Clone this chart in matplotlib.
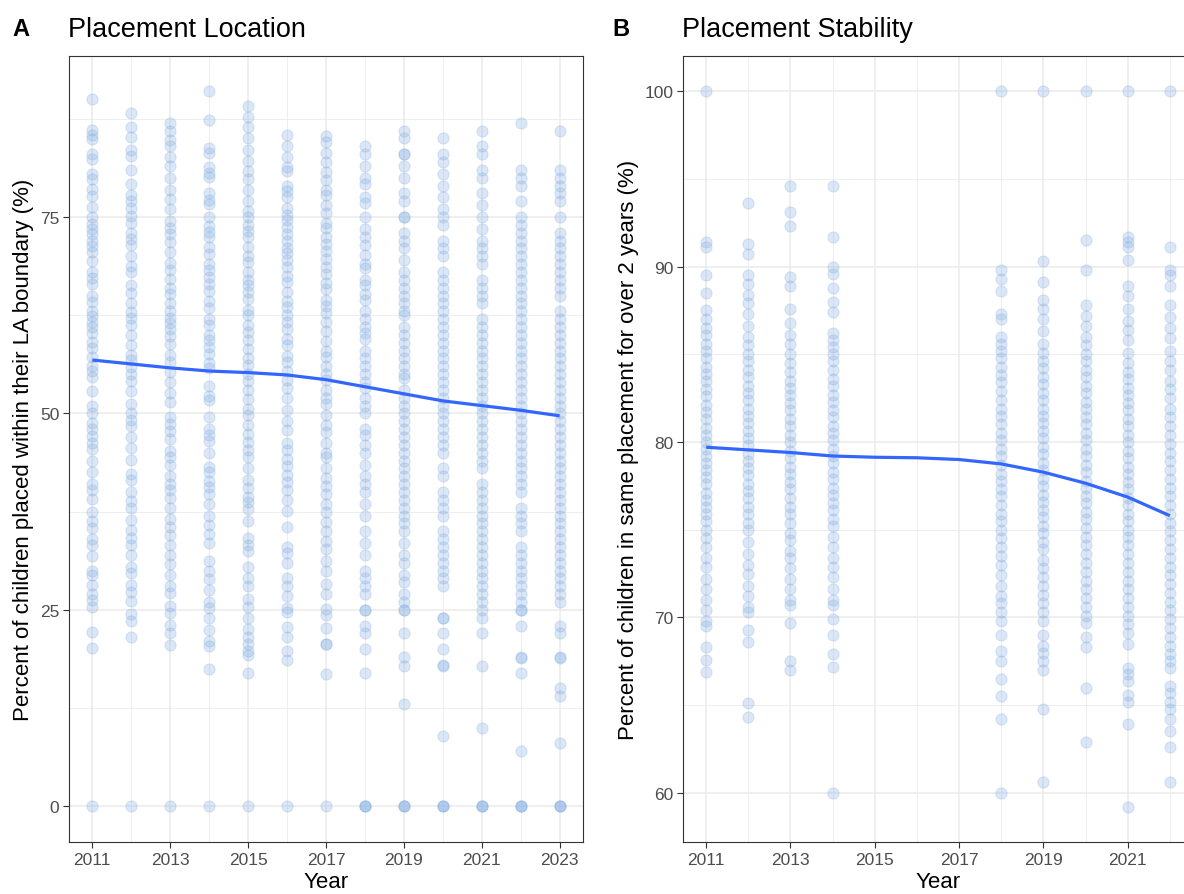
import numpy as np
from matplotlib import pyplot as plt
from matplotlib.ticker import FixedLocator, MultipleLocator

plt.rcParams['font.family'] = ['Liberation Sans', 'DejaVu Sans']

# ---- panel A: placement location, % placed within LA boundary ----
loc_years = [2011, 2012, 2013, 2014, 2015, 2016, 2017, 2018, 2019, 2020, 2021, 2022, 2023]
loc_2011 = [90.0, 86.1, 85.5, 84.9, 83.0, 82.4, 80.5, 79.8, 78.6, 77.7, 76.3, 75.0, 74.1, 73.5, 72.8, 72.0,
            71.3, 70.5, 69.4, 68.0, 67.2, 66.5, 65.0, 64.2, 63.1, 62.4, 61.7, 61.0, 60.2, 59.1, 58.3, 57.2,
            56.0, 55.4, 54.6, 52.8, 51.0, 50.1, 48.8, 48.0, 47.1, 46.3, 45.5, 44.0, 42.5, 41.0, 40.2, 39.1,
            37.5, 36.3, 35.4, 34.0, 33.2, 31.8, 30.0, 29.4, 28.1, 27.0, 26.2, 25.4, 22.2, 20.1, 0]
loc_2012 = [88.3, 86.4, 85.2, 83.5, 82.8, 81.0, 79.2, 77.8, 77.0, 76.2, 75.1, 74.3, 73.0, 72.2, 71.5, 70.0,
            68.8, 68.0, 66.4, 65.3, 64.0, 62.9, 62.1, 61.2, 60.0, 58.7, 57.5, 56.8, 55.9, 55.0, 54.1, 52.9,
            51.2, 50.0, 49.2, 48.4, 47.0, 45.6, 44.1, 42.3, 41.5, 40.0, 38.8, 38.0, 36.5, 35.2, 34.1, 33.3,
            32.0, 30.4, 29.7, 28.1, 27.3, 26.1, 24.5, 23.6, 21.6, 0]
loc_2013 = [87.0, 86.0, 84.8, 84.0, 82.6, 81.5, 80.0, 78.4, 77.3, 76.0, 74.5, 73.6, 72.9, 71.8, 70.6, 69.2,
            68.3, 67.1, 66.0, 65.2, 64.1, 63.0, 62.2, 61.5, 60.7, 59.8, 58.9, 57.5, 56.5, 55.3, 54.0, 52.6,
            51.4, 49.5, 48.6, 47.8, 46.7, 45.2, 44.4, 43.5, 42.1, 41.0, 40.3, 39.2, 38.0, 36.6, 35.5, 34.5,
            33.2, 32.0, 30.8, 29.4, 28.0, 27.2, 25.5, 24.6, 23.1, 22.0, 20.5, 0]
loc_2014 = [91.1, 87.4, 83.8, 83.1, 81.4, 80.6, 80.1, 78.0, 77.2, 76.6, 75.0, 73.9, 73.1, 72.5, 71.2, 70.3,
            69.0, 68.2, 67.4, 66.5, 65.6, 64.3, 63.4, 62.0, 61.2, 60.0, 59.4, 58.5, 57.6, 56.4, 55.8, 53.5,
            52.2, 51.7, 49.5, 48.0, 47.2, 46.5, 45.0, 43.2, 42.6, 41.4, 40.6, 39.8, 38.5, 37.0, 35.8, 34.6,
            33.5, 31.2, 30.0, 28.9, 27.5, 26.0, 25.2, 24.0, 22.4, 21.0, 20.4, 17.5, 0]
loc_2015 = [89.1, 87.7, 86.5, 85.0, 83.5, 82.1, 80.9, 79.8, 78.5, 77.0, 75.8, 75.0, 74.0, 73.2, 72.4, 71.2,
            70.1, 69.3, 68.0, 67.0, 66.3, 65.4, 64.6, 63.2, 62.5, 61.3, 60.4, 59.3, 58.2, 57.0, 56.2, 55.0,
            54.1, 53.0, 51.8, 50.6, 49.8, 48.5, 47.4, 46.4, 45.3, 44.5, 43.1, 41.5, 40.5, 39.4, 38.7, 37.8,
            36.3, 34.1, 33.3, 32.5, 30.5, 29.0, 28.0, 26.4, 25.3, 24.0, 22.5, 21.6, 20.7, 19.8, 19.2, 16.9, 0]
loc_2016 = [85.4, 84.0, 82.6, 81.4, 80.8, 79.0, 78.3, 77.5, 76.1, 75.3, 74.6, 73.7, 72.8, 72.0, 71.1, 70.4,
            69.5, 68.6, 67.5, 66.7, 65.5, 64.3, 63.5, 62.5, 61.6, 60.7, 59.5, 58.7, 57.3, 56.5, 55.4, 54.3,
            53.3, 52.0, 50.5, 49.0, 47.9, 46.3, 45.4, 44.2, 43.3, 42.2, 41.3, 40.2, 39.0, 37.6, 35.5, 33.0,
            32.3, 31.0, 29.1, 28.0, 26.7, 25.2, 24.7, 22.8, 21.6, 19.7, 18.6, 0]
loc_2017 = [85.3, 84.6, 83.2, 82.0, 80.7, 79.7, 78.5, 77.8, 76.5, 75.5, 74.2, 73.6, 72.5, 71.6, 70.7, 69.7,
            68.7, 67.8, 66.6, 65.8, 64.5, 63.7, 62.8, 61.6, 60.5, 59.2, 58.0, 57.2, 56.0, 55.0, 54.2, 53.0,
            52.0, 51.2, 49.8, 48.5, 47.6, 46.2, 45.0, 44.4, 43.0, 41.8, 40.8, 39.7, 38.5, 37.5, 36.2, 35.0,
            33.8, 32.8, 31.2, 30.0, 28.3, 27.0, 25.1, 24.3, 22.7, 20.7, 20.6, 16.8, 0]
loc_2018 = [84.0, 83.0, 81.5, 80.0, 79.2, 77.6, 76.8, 75.0, 73.5, 72.4, 71.5, 70.2, 69.0, 68.5, 67.0, 66.4,
            65.2, 64.4, 63.0, 62.0, 61.0, 60.2, 59.5, 58.0, 57.1, 56.0, 55.0, 54.0, 53.2, 52.0, 51.0, 50.0,
            48.0, 47.3, 46.0, 45.0, 43.5, 42.0, 41.0, 40.0, 38.5, 37.0, 35.0, 33.5, 32.0, 30.0, 29.0, 28.0,
            27.0, 25.0, 25.0, 23.0, 22.0, 20.0, 16.9, 0, 0, 0]
loc_2019 = [86.0, 85.0, 83.0, 83.0, 81.5, 80.0, 78.0, 77.0, 75.0, 75.0, 73.0, 72.0, 71.0, 69.5, 68.0, 67.0,
            66.0, 65.0, 64.0, 63.0, 62.5, 61.0, 60.0, 59.0, 58.0, 57.0, 56.0, 55.0, 54.5, 53.0, 52.0, 51.0,
            50.0, 49.0, 48.0, 47.0, 46.0, 45.0, 44.0, 43.0, 42.0, 41.0, 40.0, 39.0, 38.0, 37.0, 36.0, 35.0,
            33.5, 32.0, 31.0, 29.5, 28.5, 27.0, 26.0, 25.0, 25.0, 22.0, 19.0, 17.9, 13.0, 0, 0, 0]
loc_2020 = [85.0, 83.0, 82.0, 80.5, 79.0, 77.5, 76.0, 75.0, 74.0, 72.0, 71.0, 70.0, 68.0, 67.0, 66.0, 65.0,
            64.0, 63.0, 62.0, 61.0, 60.0, 59.0, 58.0, 57.0, 56.0, 55.0, 54.0, 53.0, 52.0, 51.0, 50.0, 49.0,
            48.0, 47.0, 46.0, 45.0, 43.0, 42.0, 40.0, 39.0, 38.0, 37.0, 35.0, 34.0, 33.0, 32.0, 31.0, 30.0,
            29.0, 28.0, 24.0, 24.0, 22.0, 20.0, 18.0, 17.9, 8.9, 0, 0, 0]
loc_2021 = [86.0, 84.0, 83.0, 81.0, 80.0, 78.0, 76.5, 75.0, 73.5, 72.0, 71.0, 70.0, 69.0, 67.0, 66.0, 65.0,
            64.0, 62.0, 61.0, 60.0, 59.0, 58.0, 57.0, 56.0, 55.0, 54.0, 53.0, 52.0, 51.0, 50.0, 49.0, 48.0,
            47.0, 46.0, 45.0, 44.0, 43.0, 41.0, 40.0, 39.0, 38.0, 37.0, 36.0, 35.0, 34.0, 33.0, 32.0, 31.0,
            30.0, 29.0, 28.0, 27.0, 26.0, 25.0, 24.0, 22.0, 17.9, 9.9, 0, 0, 0]
loc_2022 = [87.0, 81.0, 80.0, 79.0, 77.0, 75.0, 74.0, 73.0, 72.0, 71.0, 70.0, 69.0, 68.0, 67.0, 66.0, 65.0,
            64.0, 63.0, 62.0, 61.0, 60.0, 59.0, 58.0, 57.0, 56.0, 55.0, 54.0, 53.0, 52.0, 51.0, 50.0, 49.0,
            48.0, 47.0, 46.0, 45.0, 44.0, 43.0, 42.0, 41.0, 40.0, 38.0, 37.0, 36.0, 35.0, 33.0, 32.0, 31.0,
            30.0, 29.0, 28.0, 27.0, 26.0, 25.0, 25.0, 23.0, 19.0, 18.9, 16.9, 7.0, 0, 0, 0]
loc_2023 = [86.0, 81.0, 80.0, 79.0, 78.0, 77.0, 75.0, 73.0, 72.0, 71.0, 70.0, 69.0, 68.0, 67.0, 66.0, 65.0,
            63.0, 62.0, 61.0, 60.0, 59.0, 58.0, 57.0, 56.0, 55.0, 54.0, 53.0, 52.0, 51.0, 50.0, 49.0, 48.0,
            47.0, 46.0, 45.0, 44.0, 43.0, 42.0, 41.0, 40.0, 39.0, 38.0, 37.0, 36.0, 35.0, 34.0, 33.0, 32.0,
            31.0, 30.0, 29.0, 28.0, 27.0, 26.0, 23.0, 22.0, 19.0, 18.9, 15.0, 14.0, 8.0, 0, 0, 0]
loc_smooth = [56.8, 56.3, 55.8, 55.4, 55.2, 54.9, 54.3, 53.4, 52.5, 51.6, 51.0, 50.4, 49.7]

# ---- panel B: placement stability, % in same placement > 2 years ----
stab_years = [2011, 2012, 2013, 2014, 2018, 2019, 2020, 2021, 2022]
stab_2011 = [100, 91.4, 91.1, 89.5, 88.5, 87.5, 87.0, 86.5, 86.1, 85.6, 85.2, 84.8, 84.3, 83.9, 83.5, 83.0,
             82.6, 82.1, 81.7, 81.3, 80.8, 80.4, 80.0, 79.6, 79.2, 78.8, 78.4, 78.0, 77.6, 77.1, 76.7, 76.3,
             75.9, 75.5, 75.0, 74.5, 74.0, 73.4, 72.9, 72.2, 71.6, 71.0, 70.4, 69.8, 69.5, 68.3, 67.6, 66.9]
stab_2012 = [93.6, 91.3, 90.7, 89.5, 89.0, 88.4, 87.9, 87.3, 86.6, 86.0, 85.5, 85.0, 84.6, 84.1, 83.7, 83.2,
             82.8, 82.4, 81.9, 81.5, 81.1, 80.6, 80.2, 79.8, 79.3, 78.9, 78.5, 78.1, 77.6, 77.2, 76.8, 76.3,
             75.9, 75.4, 75.0, 74.3, 73.6, 73.0, 72.5, 71.8, 71.2, 70.6, 70.3, 69.3, 68.6, 65.1, 64.3]
stab_2013 = [94.6, 93.1, 92.3, 89.4, 88.9, 87.6, 86.8, 86.1, 85.6, 85.0, 84.5, 84.0, 83.5, 83.1, 82.7, 82.2,
             81.8, 81.3, 80.9, 80.4, 80.0, 79.5, 79.1, 78.6, 78.2, 77.7, 77.3, 76.8, 76.3, 75.9, 75.4, 74.8,
             74.4, 73.8, 73.4, 72.8, 72.2, 71.6, 71.0, 70.7, 69.7, 67.5, 67.0]
stab_2014 = [94.6, 91.7, 90.0, 89.6, 88.8, 88.0, 87.4, 86.2, 85.8, 85.4, 85.0, 84.6, 84.1, 83.6, 83.2, 82.7,
             82.3, 81.8, 81.4, 80.9, 80.5, 80.1, 79.6, 79.2, 78.8, 78.3, 77.9, 77.4, 77.0, 76.5, 76.1, 75.6,
             75.2, 74.6, 74.0, 73.4, 72.9, 72.3, 71.6, 71.0, 70.7, 69.9, 69.0, 67.9, 67.2, 60.0]
stab_2018 = [100, 89.8, 89.3, 88.6, 87.3, 87.0, 86.0, 85.6, 85.2, 84.8, 84.3, 83.8, 83.4, 82.9, 82.4, 81.9,
             81.5, 81.0, 80.5, 80.1, 79.6, 79.2, 78.7, 78.2, 77.8, 77.3, 76.9, 76.4, 75.9, 75.5, 75.0, 74.5,
             74.0, 73.5, 73.0, 72.4, 71.8, 71.2, 70.8, 70.3, 69.8, 69.0, 68.1, 67.5, 66.5, 65.5, 64.2, 60.0]
stab_2019 = [100, 90.3, 89.1, 88.1, 87.6, 87.0, 86.3, 85.6, 85.1, 84.6, 84.2, 83.7, 83.3, 82.8, 82.4, 81.9,
             81.5, 81.1, 80.6, 80.2, 79.7, 79.3, 78.8, 78.4, 77.9, 77.5, 77.0, 76.6, 76.1, 75.7, 75.2, 74.8,
             74.3, 73.9, 73.3, 72.8, 72.3, 71.8, 71.3, 70.8, 70.3, 69.8, 69.0, 68.4, 68.0, 67.5, 67.0, 64.8, 60.6]
stab_2020 = [100, 91.5, 89.8, 87.8, 87.2, 86.6, 86.0, 85.5, 85.0, 84.6, 84.1, 83.7, 83.2, 82.8, 82.3, 81.9,
             81.4, 81.0, 80.5, 80.1, 79.6, 79.2, 78.7, 78.3, 77.8, 77.4, 76.9, 76.5, 76.0, 75.6, 75.1, 74.6,
             74.1, 73.6, 73.1, 72.6, 72.1, 71.6, 71.1, 70.6, 70.1, 69.7, 68.9, 68.3, 66.0, 62.9]
stab_2021 = [100, 91.7, 91.4, 91.1, 90.4, 88.9, 88.3, 87.6, 86.9, 86.4, 85.8, 85.1, 84.5, 84.0, 83.6, 83.1,
             82.7, 82.2, 81.8, 81.3, 80.9, 80.4, 80.0, 79.5, 79.1, 78.6, 78.2, 77.7, 77.3, 76.8, 76.4, 75.9,
             75.5, 75.0, 74.6, 74.1, 73.6, 73.1, 72.6, 72.1, 71.6, 71.1, 70.6, 70.1, 69.6, 69.1, 68.5, 67.1,
             66.8, 66.4, 65.6, 65.2, 63.9, 59.2]
stab_2022 = [100, 91.1, 89.8, 89.5, 88.9, 87.8, 87.1, 86.5, 85.9, 85.2, 84.6, 84.1, 83.5, 83.0, 82.5, 81.9,
             81.4, 80.9, 80.4, 79.9, 79.4, 78.9, 78.4, 77.9, 77.4, 76.9, 76.4, 75.9, 75.4, 74.9, 74.4, 73.9,
             73.4, 72.9, 72.4, 71.9, 71.4, 70.9, 70.4, 69.9, 69.4, 68.9, 68.4, 67.9, 67.5, 67.1, 66.1, 65.7,
             65.2, 64.8, 64.2, 63.5, 62.6, 60.6]
stab_smooth_years = [2011, 2012, 2013, 2014, 2015, 2016, 2017, 2018, 2019, 2020, 2021, 2022]
stab_smooth = [79.7, 79.55, 79.4, 79.2, 79.13, 79.1, 79.0, 78.75, 78.28, 77.65, 76.86, 75.8]

loc_values = [loc_2011, loc_2012, loc_2013, loc_2014, loc_2015, loc_2016, loc_2017,
              loc_2018, loc_2019, loc_2020, loc_2021, loc_2022, loc_2023]
stab_values = [stab_2011, stab_2012, stab_2013, stab_2014, stab_2018,
               stab_2019, stab_2020, stab_2021, stab_2022]

POINT_COL = '#8AB2E4'
LINE_COL = '#3366FF'
GRID_COL = '#EBEBEB'


def style_axes(ax, xticks, xminor, ymaj):
    ax.xaxis.set_major_locator(FixedLocator(xticks))
    ax.xaxis.set_minor_locator(FixedLocator(xminor))
    ax.yaxis.set_major_locator(MultipleLocator(ymaj))
    ax.yaxis.set_minor_locator(MultipleLocator(ymaj / 2))
    ax.grid(which='major', color=GRID_COL, lw=1.1)
    ax.grid(which='minor', color=GRID_COL, lw=0.6)
    ax.set_axisbelow(True)
    ax.tick_params(which='major', length=4, width=0.8, color='#333333',
                   labelsize=12.5, labelcolor='#4D4D4D', pad=3)
    ax.tick_params(which='minor', length=0)
    for s in ax.spines.values():
        s.set_color('#333333')
        s.set_linewidth(0.8)
    ax.set_xlabel('Year', fontsize=16, labelpad=3)


def panel(ax, years, values, smooth_x, smooth_y):
    for yr, vals in zip(years, values):
        ax.scatter(np.full(len(vals), yr), vals, s=64, color=POINT_COL, alpha=0.3,
                   edgecolors=POINT_COL, linewidths=0.8, zorder=2)
    ax.plot(smooth_x, smooth_y, color=LINE_COL, lw=2.3, zorder=3,
            solid_capstyle='butt')


fig = plt.figure(figsize=(11.84, 8.95), dpi=100)

axA = fig.add_axes([69 / 1184, 52 / 895, 514 / 1184, 786 / 895])
panel(axA, loc_years, loc_values, loc_years, loc_smooth)
axA.set_xlim(2010.4, 2023.6)
axA.set_ylim(-4.55, 95.5)
style_axes(axA, range(2011, 2024, 2), range(2012, 2023, 2), 25)
axA.set_ylabel('Percent of children placed within their LA boundary (%)', fontsize=16, labelpad=4)

axB = fig.add_axes([683 / 1184, 52 / 895, 510 / 1184, 786 / 895])
panel(axB, stab_years, stab_values, stab_smooth_years, stab_smooth)
axB.set_xlim(2010.45, 2022.55)
axB.set_ylim(57.2, 102.0)
style_axes(axB, range(2011, 2022, 2), range(2012, 2023, 2), 10)
axB.set_ylabel('Percent of children in same placement for over 2 years (%)', fontsize=16, labelpad=4)

fig.text(12 / 1184, 1 - 30 / 895, 'A', fontsize=17, fontweight='bold', va='center')
fig.text(68 / 1184, 1 - 30 / 895, 'Placement Location', fontsize=19.5, va='center')
fig.text(612 / 1184, 1 - 30 / 895, 'B', fontsize=17, fontweight='bold', va='center')
fig.text(682 / 1184, 1 - 30 / 895, 'Placement Stability', fontsize=19.5, va='center')

plt.savefig('out.png', dpi=100)
